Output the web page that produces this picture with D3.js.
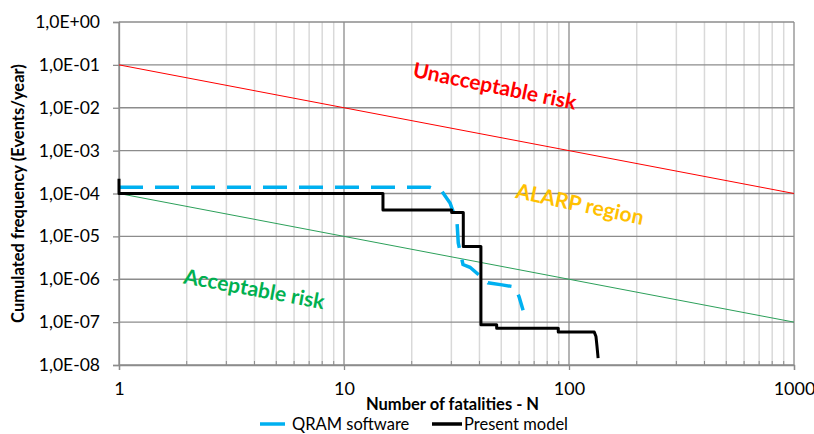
<!DOCTYPE html>
<html>
<head>
<meta charset="UTF-8">
<title>F-N curve</title>
<script src="https://d3js.org/d3.v7.min.js"></script>
<style>
  body { margin: 0; background: #fff; }
  svg text { font-family: Lato, "Open Sans", sans-serif; fill: #000; }
</style>
</head>
<body>
<svg id="chart"></svg>
<script>
// criteria lines (N, frequency)
const limitN = [1, 1000];
const unacceptableF = [1e-1, 1e-4];
const acceptableF = [1e-4, 1e-7];

// QRAM software curve
const qramN = [1, 20, 24, 27.3, 29.6, 31.8, 32.2, 33.8, 36.3, 43.6, 50.4, 57.6, 60, 62.5];
const qramF = [1.4e-4, 1.4e-4, 1.4e-4, 1.1e-4, 6e-5, 2.1e-5, 7e-6, 2.2e-6, 1.9e-6, 8.3e-7, 7.4e-7, 6.6e-7, 3.9e-7, 1.9e-7];

// present model (step curve vertices)
const presentN = [1, 1, 14.9, 14.9, 30.1, 30.1, 33.9, 33.9, 40.6, 40.6, 47.7, 47.7, 89.6, 89.6, 129.5, 131.8, 133.2, 134.7];
const presentF = [2.2e-4, 1e-4, 1e-4, 4.15e-5, 4.15e-5, 3.6e-5, 3.6e-5, 5.8e-6, 5.8e-6, 8.65e-8, 8.65e-8, 7.2e-8, 7.2e-8, 5.85e-8, 5.85e-8, 4.6e-8, 2.7e-8, 1.45e-8];

const yTicks = [1e0, 1e-1, 1e-2, 1e-3, 1e-4, 1e-5, 1e-6, 1e-7, 1e-8];
const yTickLabels = ["1,0E+00", "1,0E-01", "1,0E-02", "1,0E-03", "1,0E-04", "1,0E-05", "1,0E-06", "1,0E-07", "1,0E-08"];
const xTicks = [1, 10, 100, 1000];

const labels = [
  { text: "Unacceptable risk", n: 46.9, f: 3.4e-2, color: "#ff0000", angle: 11.5 },
  { text: "ALARP region", n: 112, f: 6e-5, color: "#ffc000", angle: 12 },
  { text: "Acceptable risk", n: 4, f: 6.3e-7, color: "#00b050", angle: 10.5 }
];

const W = 814, H = 434;
const margin = { top: 22, right: 20, bottom: 69, left: 119 };
const width = W - margin.left - margin.right;
const height = H - margin.top - margin.bottom;

const svg = d3.select('#chart').attr('width', W).attr('height', H);
const g = svg.append('g').attr('transform', `translate(${margin.left},${margin.top})`);

const x = d3.scaleLog().domain([1, 1000]).range([0, width]);
const y = d3.scaleLog().domain([1e-8, 1]).range([height, 0]);

// minor vertical grid
const minorX = [];
for (let d = 1; d < 1000; d *= 10) for (let k = 2; k <= 9; k++) minorX.push(d * k);
g.selectAll('.vminor').data(minorX).enter().append('line')
  .attr('x1', d => x(d)).attr('x2', d => x(d))
  .attr('y1', 0).attr('y2', height)
  .attr('stroke', '#d9d9d9').attr('stroke-width', 1.5);

// major vertical grid
g.selectAll('.vmajor').data(xTicks).enter().append('line')
  .attr('x1', d => x(d)).attr('x2', d => x(d))
  .attr('y1', 0).attr('y2', height)
  .attr('stroke', '#8c8c8c').attr('stroke-width', 1.3);

// horizontal grid
g.selectAll('.hgrid').data(yTicks).enter().append('line')
  .attr('x1', 0).attr('x2', width)
  .attr('y1', d => y(d)).attr('y2', d => y(d))
  .attr('stroke', '#8c8c8c').attr('stroke-width', 1.3);

// axes
g.append('g')
  .call(d3.axisLeft(y).tickValues(yTicks).tickFormat((d, i) => yTickLabels[i]).tickSize(6).tickPadding(13))
  .call(a => a.select('.domain').attr('stroke', '#8c8c8c').attr('stroke-width', 1.3))
  .call(a => a.selectAll('.tick line').attr('stroke', '#8c8c8c').attr('stroke-width', 1.3))
  .call(a => a.selectAll('.tick text').attr('font-size', 17.5).attr('font-family', 'Lato'));

g.append('g').attr('transform', `translate(0,${height})`)
  .call(d3.axisBottom(x).tickValues(xTicks).tickFormat(d3.format('d')).tickSize(5).tickPadding(12))
  .call(a => a.select('.domain').attr('stroke', '#8c8c8c').attr('stroke-width', 1.3))
  .call(a => a.selectAll('.tick line').attr('stroke', '#8c8c8c').attr('stroke-width', 1.3))
  .call(a => a.selectAll('.tick text').attr('font-size', 18).attr('font-family', 'Lato'));

// minor ticks on x axis (inside)
g.selectAll('.xminor').data(minorX).enter().append('line')
  .attr('x1', d => x(d)).attr('x2', d => x(d))
  .attr('y1', height - 4).attr('y2', height)
  .attr('stroke', '#8c8c8c');

// criteria lines
const line = d3.line().x(d => x(d[0])).y(d => y(d[1]));
g.append('path').datum(d3.zip(limitN, unacceptableF))
  .attr('d', line).attr('fill', 'none').attr('stroke', '#ff0000').attr('stroke-width', 1);
g.append('path').datum(d3.zip(limitN, acceptableF))
  .attr('d', line).attr('fill', 'none').attr('stroke', '#2ca05a').attr('stroke-width', 1);

// series
g.append('path').datum(d3.zip(qramN, qramF))
  .attr('d', line).attr('fill', 'none').attr('stroke', '#00b0f0')
  .attr('stroke-width', 3.5).attr('stroke-dasharray', '24,12');
g.append('path').datum(d3.zip(presentN, presentF))
  .attr('d', line).attr('fill', 'none').attr('stroke', '#000')
  .attr('stroke-width', 3).attr('stroke-linejoin', 'round');

// region labels
g.selectAll('.region').data(labels).enter().append('text')
  .attr('transform', d => `translate(${x(d.n)},${y(d.f)}) rotate(${d.angle})`)
  .attr('text-anchor', 'middle').attr('dominant-baseline', 'central')
  .attr('font-size', 21).attr('font-weight', 'bold')
  .style('fill', d => d.color)
  .text(d => d.text);

// axis titles
svg.append('text')
  .attr('x', margin.left + width / 2 - 4).attr('y', 410)
  .attr('text-anchor', 'middle').attr('font-size', 16.5).attr('font-weight', 'bold')
  .text('Number of fatalities - N');
svg.append('text')
  .attr('transform', `translate(24,${margin.top + height / 2}) rotate(-90)`)
  .attr('text-anchor', 'middle').attr('font-size', 16.5).attr('font-weight', 'bold')
  .text('Cumulated frequency (Events/year)');

// legend
const legend = [
  { name: 'QRAM software', color: '#00b0f0', x0: 260, len: 25 },
  { name: 'Present model', color: '#000', x0: 432, len: 30 }
];
const lg = svg.selectAll('.legend').data(legend).enter().append('g')
  .attr('transform', d => `translate(${d.x0},424)`);
lg.append('line').attr('x1', 0).attr('x2', d => d.len)
  .attr('stroke', d => d.color).attr('stroke-width', 3.5);
lg.append('text').attr('x', 32).attr('dy', '0.35em')
  .attr('font-size', 16.5).text(d => d.name);
</script>
</body>
</html>
